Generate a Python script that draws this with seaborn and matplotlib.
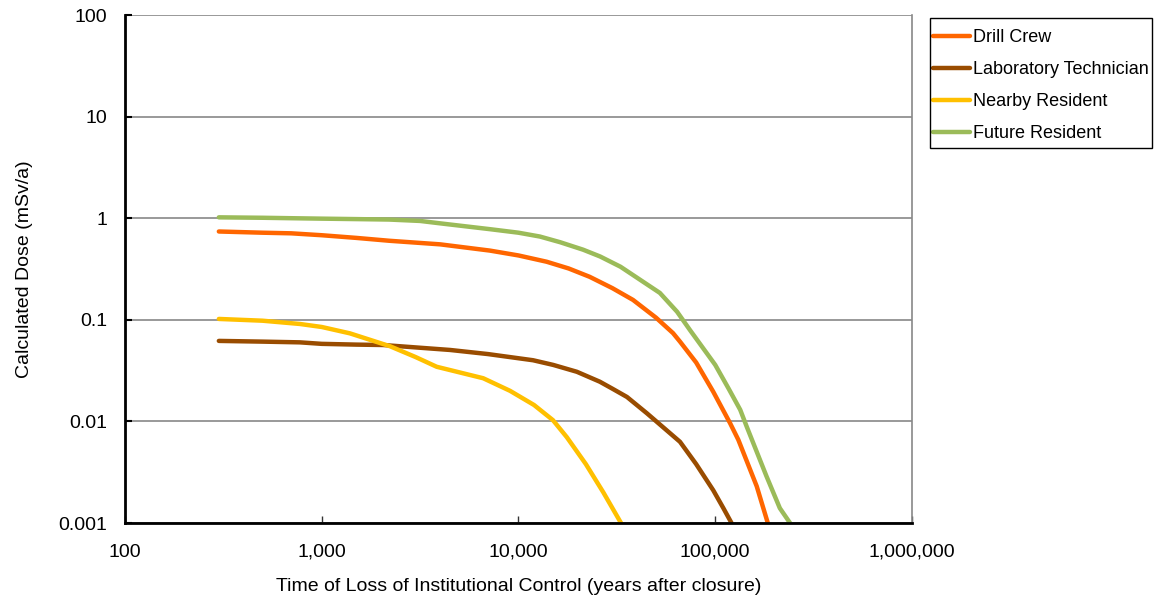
import numpy as np
import pandas as pd
import matplotlib
import matplotlib.pyplot as plt
import seaborn as sns
from matplotlib.patches import Rectangle
from matplotlib.ticker import FixedLocator, FuncFormatter, NullLocator

# DATA
drill_years = [300, 500, 700, 1000, 1500, 2200, 4000, 7160, 10000, 13900, 18000, 23000,
               30000, 38200, 50000, 61000, 66200, 80000, 97700, 119000, 131000, 162500, 185000]
drill_dose = [0.74, 0.72, 0.71, 0.68, 0.64, 0.6, 0.553, 0.48, 0.43, 0.373, 0.32, 0.265,
              0.205, 0.157, 0.105, 0.074, 0.061, 0.038, 0.0196, 0.0096, 0.0066, 0.0023, 0.001]

lab_years = [300, 500, 775, 1000, 1500, 2050, 4490, 7000, 11860, 15000, 19800, 25900,
             30000, 35600, 45000, 66200, 80000, 97700, 110000, 121000]
lab_dose = [0.062, 0.061, 0.060, 0.058, 0.057, 0.0565, 0.0505, 0.046, 0.040, 0.036, 0.0308, 0.0246,
            0.021, 0.0174, 0.012, 0.0063, 0.0038, 0.0021, 0.0014, 0.001]

nearby_years = [300, 500, 775, 1000, 1390, 2220, 3000, 3840, 6620, 9060, 12000, 14960,
                17600, 22000, 27000, 33200]
nearby_dose = [0.102, 0.098, 0.091, 0.085, 0.0736, 0.055, 0.043, 0.0345, 0.0266, 0.02, 0.0145, 0.0103,
               0.007, 0.0038, 0.002, 0.001]

future_years = [300, 500, 700, 1000, 1500, 2200, 3162, 4000, 7160, 10000, 12850, 16300, 21300,
                26000, 33000, 52300, 64000, 74500, 100000, 117000, 134000, 144500, 182000, 213000, 240000]
future_dose = [1.02, 1.01, 1.0, 0.99, 0.98, 0.97, 0.94, 0.89, 0.78, 0.72, 0.66, 0.58, 0.49,
               0.42, 0.333, 0.184, 0.12, 0.079, 0.036, 0.021, 0.013, 0.0089, 0.0029, 0.0014, 0.001]

series_names = ['Drill Crew', 'Laboratory Technician', 'Nearby Resident', 'Future Resident']
series_colors = ['#FF6600', '#994C00', '#FFC000', '#9BBB59']

frames = []
for name, yrs, dose in zip(series_names,
                           [drill_years, lab_years, nearby_years, future_years],
                           [drill_dose, lab_dose, nearby_dose, future_dose]):
    frames.append(pd.DataFrame({'Years': yrs, 'Dose': dose, 'Receptor': name}))
dose_df = pd.concat(frames, ignore_index=True)

# PLOT
sns.set_style('white')
plt.rcParams['font.family'] = ['Liberation Sans', 'DejaVu Sans']
plt.rcParams['font.size'] = 14
plt.rcParams['text.color'] = 'black'

fig = plt.figure(figsize=(11.55, 6), dpi=100)
ax = fig.add_axes([0.1082, 0.1283, 0.6814, 0.8467])

sns.lineplot(data=dose_df, x='Years', y='Dose', hue='Receptor', hue_order=series_names,
             palette=series_colors, linewidth=3.2, sort=False, estimator=None, ax=ax)

ax.set_xscale('log')
ax.set_yscale('log')
ax.set_xlim(100, 1e6)
ax.set_ylim(0.001, 100)

ax.xaxis.set_major_locator(FixedLocator([1e2, 1e3, 1e4, 1e5, 1e6]))
ax.yaxis.set_major_locator(FixedLocator([1e-3, 1e-2, 1e-1, 1, 10, 100]))
ax.xaxis.set_minor_locator(NullLocator())
ax.yaxis.set_minor_locator(NullLocator())
ax.xaxis.set_major_formatter(FuncFormatter(lambda v, p: f'{int(round(v)):,}'))
ax.yaxis.set_major_formatter(FuncFormatter(lambda v, p: f'{v:g}'))

ax.grid(axis='y', color='#888888', linewidth=1.2)
ax.grid(axis='x', visible=False)
ax.tick_params(axis='x', direction='in', length=5, width=1, color='#333333', pad=15,
               labelsize=14, labelcolor='black')
ax.tick_params(axis='y', direction='in', length=5, width=1.5, color='black', pad=13,
               labelsize=14, labelcolor='black')
ax.tick_params(left=True, bottom=True)

for side in ['left', 'bottom']:
    ax.spines[side].set_color('black')
    ax.spines[side].set_linewidth(2)
ax.spines['right'].set_color('#888888')
ax.spines['right'].set_linewidth(1.2)
ax.spines['top'].set_visible(False)

ax.set_xlabel('Time of Loss of Institutional Control (years after closure)', fontsize=14,
              labelpad=12, color='black')
ax.set_ylabel('Calculated Dose (mSv/a)', fontsize=14, labelpad=18, color='black')

# legend outside the plot, box drawn separately so the text can sit near its edge
ax.legend(loc='upper left', bbox_to_anchor=(933 / 1155, 1 - 29 / 600), bbox_transform=fig.transFigure,
          frameon=False, fontsize=13, handlelength=2.05, handletextpad=0.17,
          borderaxespad=0, labelspacing=0.84, borderpad=0, title=None)
for line in ax.get_legend().get_lines():
    line.set_linewidth(3.2)
fig.patches.append(Rectangle((930 / 1155, 1 - 148 / 600), 222 / 1155, 130 / 600,
                             transform=fig.transFigure, fill=False, edgecolor='black', linewidth=1.0))

plt.savefig('out.png', dpi=100, facecolor='white')
